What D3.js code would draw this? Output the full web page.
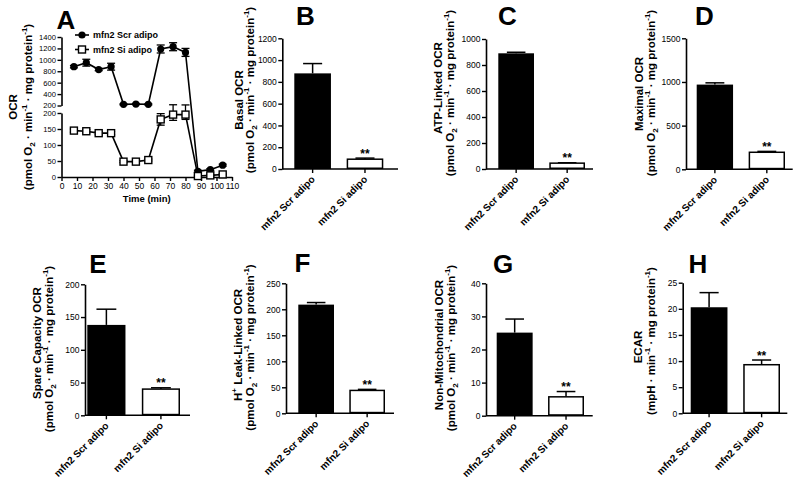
<!DOCTYPE html>
<html><head><meta charset="utf-8">
<script src="https://cdn.jsdelivr.net/npm/d3@7"></script>
<style>body{margin:0;background:#fff}svg{display:block}</style>
</head><body><svg id="c" width="800" height="489"></svg>
<script>
// ---------- DATA ----------
const categories = ["mfn2 Scr adipo", "mfn2 Si adipo"];
const timePoints = [8, 16, 24, 32, 40, 48, 56, 64, 72, 80, 88, 96, 104];
const scrOCR = [880, 950, 830, 880, 220, 225, 220, 1190, 1230, 1130, 18, 23, 37];
const scrErr = [20, 60, 20, 60, 10, 10, 10, 70, 70, 70, 3, 3, 3];
const siOCR = [145, 143, 137, 137, 48, 48, 53, 180, 195, 195, 3, 5, 8];
const siErr = [5, 5, 5, 5, 3, 3, 3, 18, 18, 15, 2, 2, 2];
const timeTicks = [0, 10, 20, 30, 40, 50, 60, 70, 80, 90, 100, 110];
const ocrUpperTicks = [200, 400, 600, 800, 1000, 1200, 1400];
const ocrLowerTicks = [0, 50, 100, 150, 200];

const basalMean = [878, 90], basalErr = [90, 10];
const atpMean = [890, 45], atpErr = [8, 3];
const maximalMean = [970, 195], maximalErr = [20, 10];
const spareMean = [138, 40], spareErr = [24, 2];
const leakMean = [209, 44], leakErr = [4, 2];
const nonMitoMean = [25.1, 5.7], nonMitoErr = [4.1, 1.6];
const ecarMean = [20.3, 9.3], ecarErr = [2.8, 0.9];

const basalTicks = [0, 200, 400, 600, 800, 1000, 1200];
const atpTicks = [0, 200, 400, 600, 800, 1000];
const maximalTicks = [0, 500, 1000, 1500];
const spareTicks = [0, 50, 100, 150, 200];
const leakTicks = [0, 50, 100, 150, 200, 250];
const nonMitoTicks = [0, 10, 20, 30, 40];
const ecarTicks = [0, 5, 10, 15, 20, 25];

// ---------- HELPERS ----------
const FONT = '"Liberation Sans", Arial, Helvetica, sans-serif';
const fmt = d3.format("d");
const svg = d3.select("#c");
const ocrUnit = [["(pmol O", null], ["2", "sub"], [" \u00B7 min", null], ["-1", "sup"], [" \u00B7 mg protein", null], ["-1", "sup"], [")", null]];
const ecarUnit = [["(mpH \u00B7 min", null], ["-1", "sup"], [" \u00B7 mg protein", null], ["-1", "sup"], [")", null]];

function styleAxis(g, fs) {
  g.selectAll("path.domain").attr("stroke", "#000").attr("stroke-width", 1.6);
  g.selectAll(".tick line").attr("stroke", "#000").attr("stroke-width", 1.4);
  g.selectAll(".tick text").attr("font-family", FONT).attr("font-size", fs).attr("fill", "#000");
}
function rich(t, parts, fs) {
  let cur = 0;
  parts.forEach(([s, kind]) => {
    const target = kind === "sub" ? fs * 0.3 : kind === "sup" ? -fs * 0.42 : 0;
    const ts = t.append("tspan").attr("dy", target - cur).text(s);
    if (kind) ts.attr("font-size", fs * 0.7);
    cur = target;
  });
}
function vLabel(x, y, parts, fs) {
  const t = svg.append("text").attr("transform", `translate(${x},${y}) rotate(-90)`)
    .attr("text-anchor", "middle").attr("font-family", FONT).attr("font-weight", "bold")
    .attr("font-size", fs).attr("fill", "#000");
  rich(t, parts, fs);
}
function letter(s, x, y) {
  svg.append("text").attr("x", x).attr("y", y).attr("text-anchor", "middle")
    .attr("font-family", FONT).attr("font-weight", "bold").attr("font-size", 26).text(s);
}

// ---------- PANEL A ----------
(function () {
  const x = d3.scaleLinear().domain([0, 110]).range([61.5, 232]);
  const yUp = d3.scaleLinear().domain([200, 1400]).range([105.5, 37]);
  const yLo = d3.scaleLinear().domain([0, 200]).range([177, 113]);
  const y = v => v > 200 ? yUp(v) : yLo(Math.min(v, 200));
  const g = svg.append("g");
  const ax = g.append("g").attr("transform", `translate(0,${yLo(0)})`)
    .call(d3.axisBottom(x).tickValues(timeTicks).tickFormat(fmt).tickSize(4).tickSizeOuter(0).tickPadding(2));
  styleAxis(ax, 8.5);
  const ay1 = g.append("g").attr("transform", `translate(${x(0)},0)`)
    .call(d3.axisLeft(yUp).tickValues(ocrUpperTicks).tickFormat(fmt).tickSize(4).tickSizeOuter(0).tickPadding(1.5));
  styleAxis(ay1, 7.6);
  const ay2 = g.append("g").attr("transform", `translate(${x(0)},0)`)
    .call(d3.axisLeft(yLo).tickValues(ocrLowerTicks).tickFormat(fmt).tickSize(4).tickSizeOuter(0).tickPadding(1.5));
  styleAxis(ay2, 7.6);

  const series = [
    { v: scrOCR, e: scrErr, shape: "circle" },
    { v: siOCR, e: siErr, shape: "square" }
  ];
  series.forEach(s => {
    const pts = timePoints.map((t, i) => ({ t, v: s.v[i], e: s.e[i] }));
    g.append("path").datum(pts).attr("fill", "none").attr("stroke", "#000").attr("stroke-width", 1.6)
      .attr("d", d3.line().x(d => x(d.t)).y(d => y(d.v)));
    const eb = g.append("g").attr("stroke", "#000").attr("stroke-width", 1.3);
    pts.forEach(d => {
      const top = y(d.v + d.e), bot = y(d.v - d.e);
      eb.append("line").attr("x1", x(d.t)).attr("x2", x(d.t)).attr("y1", top).attr("y2", bot);
      eb.append("line").attr("x1", x(d.t) - 4).attr("x2", x(d.t) + 4).attr("y1", top).attr("y2", top);
      eb.append("line").attr("x1", x(d.t) - 4).attr("x2", x(d.t) + 4).attr("y1", bot).attr("y2", bot);
    });
    if (s.shape === "circle") {
      g.selectAll(null).data(pts).join("circle").attr("cx", d => x(d.t)).attr("cy", d => y(d.v))
        .attr("r", 3.6).attr("fill", "#000");
    } else {
      g.selectAll(null).data(pts).join("rect").attr("x", d => x(d.t) - 3.5).attr("y", d => y(d.v) - 3.5)
        .attr("width", 7).attr("height", 7).attr("fill", "#fff").attr("stroke", "#000").attr("stroke-width", 1.4);
    }
  });
  // legend
  const lg = g.append("g").attr("font-family", FONT).attr("font-weight", "bold").attr("font-size", 9);
  [[categories[0], 35, "circle"], [categories[1], 49.5, "square"]].forEach(([name, ly, shp]) => {
    lg.append("line").attr("x1", 75).attr("x2", 89).attr("y1", ly).attr("y2", ly).attr("stroke", "#000").attr("stroke-width", 1.6);
    if (shp === "circle") lg.append("circle").attr("cx", 82).attr("cy", ly).attr("r", 3.6).attr("fill", "#000");
    else lg.append("rect").attr("x", 78.5).attr("y", ly - 3.5).attr("width", 7).attr("height", 7).attr("fill", "#fff").attr("stroke", "#000").attr("stroke-width", 1.4);
    lg.append("text").attr("x", 93).attr("y", ly + 3.2).text(name);
  });
  svg.append("text").attr("x", (x(0) + x(110)) / 2).attr("y", 202).attr("text-anchor", "middle")
    .attr("font-family", FONT).attr("font-weight", "bold").attr("font-size", 9.5).text("Time (min)");
  vLabel(16.5, 107, [["OCR", null]], 11.5);
  vLabel(32, 107, ocrUnit, 11.5);
  letter("A", 66, 28.5);
})();

// ---------- BAR PANELS ----------
const panels = [
  { L: "B", mean: basalMean, err: basalErr, ticks: basalTicks, title: [["Basal OCR", null]], unit: ocrUnit,
    axisX: 282.3, xEnd: 398, band: [294.3, 383.3], y0: 169, yTop: 38.3, lx: 305.5, ly: 25,
    t1: [242.5, 100], t2: [254, 90] },
  { L: "C", mean: atpMean, err: atpErr, ticks: atpTicks, title: [["ATP-Linked OCR", null]], unit: ocrUnit,
    axisX: 486, xEnd: 593, band: [498.3, 585], y0: 169, yTop: 39, lx: 507.5, ly: 25,
    t1: [442, 88], t2: [454, 93] },
  { L: "D", mean: maximalMean, err: maximalErr, ticks: maximalTicks, title: [["Maximal OCR", null]], unit: ocrUnit,
    axisX: 686, xEnd: 792.7, band: [696.7, 785], y0: 169.3, yTop: 38.3, lx: 704.5, ly: 25,
    t1: [643, 94], t2: [655, 93] },
  { L: "E", mean: spareMean, err: spareErr, ticks: spareTicks, title: [["Spare Capacity OCR", null]], unit: ocrUnit,
    axisX: 85, xEnd: 190, band: [87.3, 180], y0: 415.3, yTop: 284.3, lx: 98, ly: 273,
    t1: [40.5, 343], t2: [53, 349] },
  { L: "F", mean: leakMean, err: leakErr, ticks: leakTicks, title: [["H", null], ["+", "sup"], [" Leak-Linked OCR", null]], unit: ocrUnit,
    axisX: 286, xEnd: 394, band: [298.3, 385], y0: 413.3, yTop: 283.3, lx: 302.5, ly: 272,
    t1: [241.5, 345], t2: [253.5, 347.5] },
  { L: "G", mean: nonMitoMean, err: nonMitoErr, ticks: nonMitoTicks, title: [["Non-Mitochondrial OCR", null]], unit: ocrUnit,
    axisX: 486, xEnd: 592.7, band: [496.7, 584], y0: 415.7, yTop: 283.3, lx: 503, ly: 273,
    t1: [443, 345], t2: [454.5, 348] },
  { L: "H", mean: ecarMean, err: ecarErr, ticks: ecarTicks, title: [["ECAR", null]], unit: ecarUnit,
    axisX: 682.7, xEnd: 787.3, band: [690.7, 780], y0: 413.3, yTop: 282.7, lx: 698, ly: 273,
    t1: [641.5, 347], t2: [654.5, 341] }
];

panels.forEach(p => {
  const max = d3.max(p.ticks);
  const y = d3.scaleLinear().domain([0, max]).range([p.y0, p.yTop]);
  const x = d3.scaleBand().domain(categories).range(p.band).paddingInner(0.3).paddingOuter(0);
  const g = svg.append("g");
  const data = categories.map((c, i) => ({ c, v: p.mean[i], e: p.err[i], i }));
  const bw = x.bandwidth();
  // error bars (upward only)
  data.forEach(d => {
    const cx = x(d.c) + bw / 2;
    g.append("line").attr("x1", cx).attr("x2", cx).attr("y1", y(d.v)).attr("y2", y(d.v + d.e))
      .attr("stroke", "#000").attr("stroke-width", 1.5);
    g.append("line").attr("x1", cx - bw * 0.26).attr("x2", cx + bw * 0.26).attr("y1", y(d.v + d.e)).attr("y2", y(d.v + d.e))
      .attr("stroke", "#000").attr("stroke-width", 1.5);
  });
  g.selectAll(null).data(data).join("rect")
    .attr("x", d => x(d.c) + (d.i ? 0.75 : 0)).attr("width", d => bw - (d.i ? 1.5 : 0))
    .attr("y", d => y(d.v)).attr("height", d => y(0) - y(d.v) - (d.i ? 0.75 : 0))
    .attr("fill", d => d.i ? "#fff" : "#000").attr("stroke", d => d.i ? "#000" : "none").attr("stroke-width", 1.5);
  // significance
  const s = data[1];
  g.append("text").attr("x", x(s.c) + bw / 2).attr("y", y(s.v + s.e) - 0.5).attr("text-anchor", "middle")
    .attr("font-family", FONT).attr("font-weight", "bold").attr("font-size", 12).text("**");
  // axes
  const ay = g.append("g").attr("transform", `translate(${p.axisX},0)`)
    .call(d3.axisLeft(y).tickValues(p.ticks).tickFormat(fmt).tickSize(4).tickSizeOuter(0).tickPadding(1.5));
  styleAxis(ay, 8.5);
  const axg = g.append("g").attr("transform", `translate(0,${p.y0})`);
  axg.append("line").attr("x1", p.axisX).attr("x2", p.xEnd).attr("stroke", "#000").attr("stroke-width", 1.6);
  axg.selectAll("line.tk").data(categories).join("line").attr("class", "tk")
    .attr("x1", c => x(c) + bw / 2).attr("x2", c => x(c) + bw / 2).attr("y1", 0).attr("y2", 4)
    .attr("stroke", "#000").attr("stroke-width", 1.4);
  axg.selectAll("text.cat").data(categories).join("text").attr("class", "cat")
    .attr("transform", c => `translate(${x(c) + bw / 2 + 3},11) rotate(-45)`)
    .attr("text-anchor", "end").attr("font-family", FONT).attr("font-weight", "bold").attr("font-size", 10)
    .text(c => c);
  vLabel(p.t1[0], p.t1[1], p.title, 11.5);
  vLabel(p.t2[0], p.t2[1], p.unit, 11.5);
  letter(p.L, p.lx, p.ly);
});
</script>
</body></html>
